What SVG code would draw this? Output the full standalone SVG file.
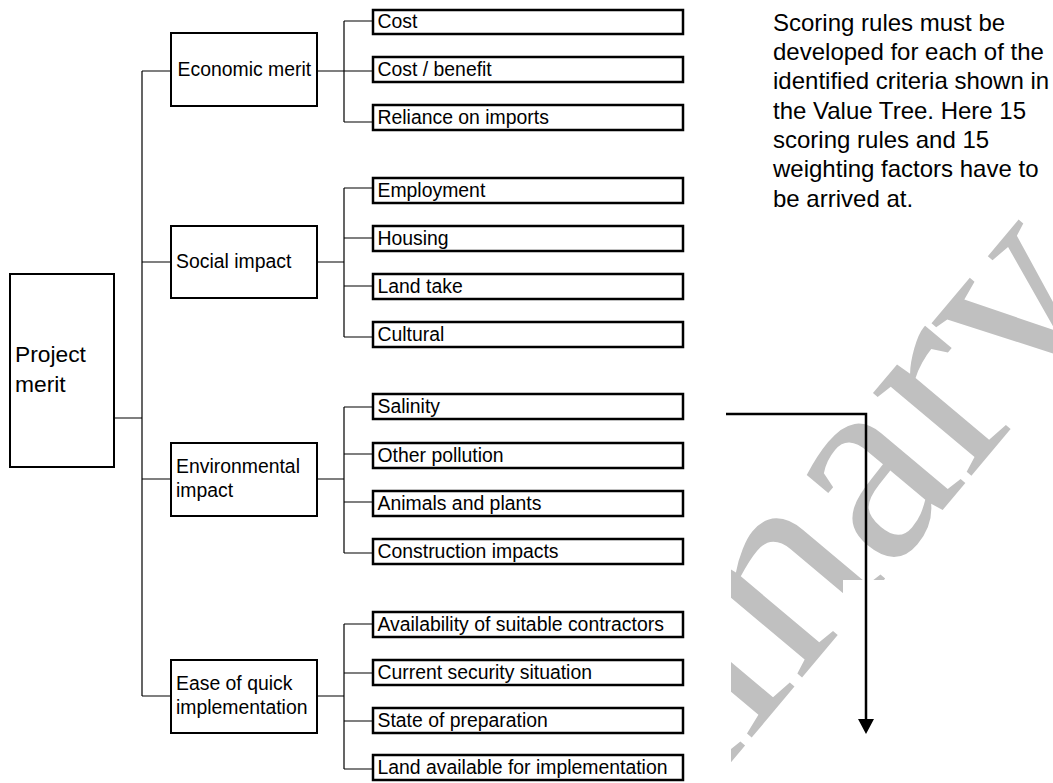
<svg xmlns="http://www.w3.org/2000/svg" width="1053" height="783" viewBox="0 0 1053 783">
<style>
.box{fill:#fff;stroke:#000;stroke-width:2}
.leaf{fill:#fff;stroke:#000;stroke-width:2.5}
.conn{fill:none;stroke:#000;stroke-width:1.2}
.t{font-family:"Liberation Sans",Arial,sans-serif;font-size:19.4px;fill:#000}
.big{font-size:22.8px}
.note{font-family:"Liberation Sans",Arial,sans-serif;font-size:24px;fill:#000}
.wm{font-family:"Liberation Serif","Times New Roman",serif;font-size:280px;fill:#c0c0c0}
</style>
<defs>
<clipPath id="wmclip">
<rect x="731" y="0" width="322" height="580"/>
<rect x="731" y="580" width="112" height="203"/>
</clipPath>
</defs>
<rect width="1053" height="783" fill="#fff"/>
<g id="watermark" clip-path="url(#wmclip)">
<text class="wm" transform="translate(268,1314) rotate(-50)">Preliminary</text>
</g>
<g id="connectors">
<path class="conn" d="M114,418H142M142,71V696M142,71H171M142,262H171M142,479H171M142,696H171"/>
<path class="conn" d="M317,71H344M344,21V122M344,21H373M344,71H373M344,122H373"/>
<path class="conn" d="M317,262H344M344,188V337M344,188H373M344,238H373M344,286H373M344,337H373"/>
<path class="conn" d="M317,479H344M344,407V553M344,407H373M344,454H373M344,502H373M344,553H373"/>
<path class="conn" d="M317,696H344M344,624V769M344,624H373M344,673H373M344,721H373M344,769H373"/>
</g>
<g id="arrow">
<path d="M726,414H866V720" fill="none" stroke="#000" stroke-width="2.5"/>
<polygon points="858,719 874,719 866,734" fill="#000"/>
</g>
<g id="project-merit">
<rect class="box" x="10" y="274" width="104" height="193"/>
<text class="t big" x="15" y="362">Project</text>
<text class="t big" x="15" y="392">merit</text>
</g>
<g id="economic-merit">
<rect class="box" x="171" y="33" width="146" height="73"/>
<text class="t" x="177.5" y="76">Economic merit</text>
</g>
<g id="social-impact">
<rect class="box" x="171" y="226" width="146" height="72"/>
<text class="t" x="176" y="268">Social impact</text>
</g>
<g id="environmental-impact">
<rect class="box" x="171" y="443" width="146" height="73"/>
<text class="t" x="176" y="473">Environmental</text>
<text class="t" x="176" y="497">impact</text>
</g>
<g id="ease-of-quick-implementation">
<rect class="box" x="171" y="660" width="146" height="73"/>
<text class="t" x="176" y="690">Ease of quick</text>
<text class="t" x="176" y="714">implementation</text>
</g>
<g id="cost"><rect class="leaf" x="373" y="10" width="310" height="24"/><text class="t" x="377.5" y="28">Cost</text></g>
<g id="cost-benefit"><rect class="leaf" x="373" y="57" width="310" height="25"/><text class="t" x="377.5" y="76">Cost / benefit</text></g>
<g id="reliance-on-imports"><rect class="leaf" x="373" y="105" width="310" height="25"/><text class="t" x="377.5" y="124">Reliance on imports</text></g>
<g id="employment"><rect class="leaf" x="373" y="178" width="310" height="25"/><text class="t" x="377.5" y="197">Employment</text></g>
<g id="housing"><rect class="leaf" x="373" y="226" width="310" height="25"/><text class="t" x="377.5" y="245">Housing</text></g>
<g id="land-take"><rect class="leaf" x="373" y="274" width="310" height="25"/><text class="t" x="377.5" y="293">Land take</text></g>
<g id="cultural"><rect class="leaf" x="373" y="322" width="310" height="25"/><text class="t" x="377.5" y="341">Cultural</text></g>
<g id="salinity"><rect class="leaf" x="373" y="394" width="310" height="25"/><text class="t" x="377.5" y="413">Salinity</text></g>
<g id="other-pollution"><rect class="leaf" x="373" y="443" width="310" height="25"/><text class="t" x="377.5" y="462">Other pollution</text></g>
<g id="animals-and-plants"><rect class="leaf" x="373" y="491" width="310" height="25"/><text class="t" x="377.5" y="510">Animals and plants</text></g>
<g id="construction-impacts"><rect class="leaf" x="373" y="539" width="310" height="25"/><text class="t" x="377.5" y="558">Construction impacts</text></g>
<g id="availability"><rect class="leaf" x="373" y="612" width="310" height="25"/><text class="t" x="377.5" y="631">Availability of suitable contractors</text></g>
<g id="current-security"><rect class="leaf" x="373" y="660" width="310" height="25"/><text class="t" x="377.5" y="679">Current security situation</text></g>
<g id="state-of-preparation"><rect class="leaf" x="373" y="708" width="310" height="25"/><text class="t" x="377.5" y="727">State of preparation</text></g>
<g id="land-available"><rect class="leaf" x="373" y="755" width="310" height="25"/><text class="t" x="377.5" y="773.5">Land available for implementation</text></g>
<g id="note">
<text class="note" x="773" y="30.7">Scoring rules must be</text>
<text class="note" x="773" y="60">developed for each of the</text>
<text class="note" x="773" y="89.4">identified criteria shown in</text>
<text class="note" x="773" y="118.7">the Value Tree. Here 15</text>
<text class="note" x="773" y="148">scoring rules and 15</text>
<text class="note" x="773" y="177.4">weighting factors have to</text>
<text class="note" x="773" y="206.7">be arrived at.</text>
</g>
</svg>
